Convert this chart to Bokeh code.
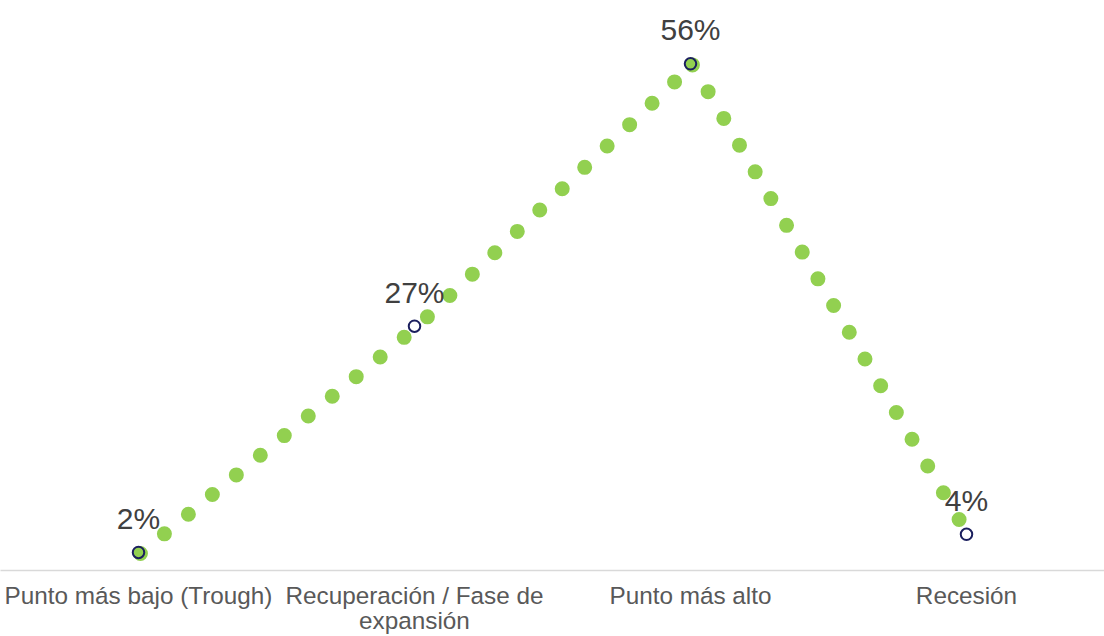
from bokeh.plotting import figure
from bokeh.models import FactorRange, Range1d, ColumnDataSource
from bokeh.core.properties import value
from bokeh.transform import dodge
from bokeh.embed import file_html
from bokeh.resources import INLINE

categories = ["Punto más bajo (Trough)", "Recuperación / Fase de\nexpansión", "Punto más alto", "Recesión"]
values = [2, 27, 56, 4]
labels = [f"{v}%" for v in values]

src = ColumnDataSource(dict(x=categories, y=values, label=labels))
# the dotted line restarts its dot pattern at the peak
src_up = ColumnDataSource(dict(x=categories[:3], y=values[:3]))
src_down = ColumnDataSource(dict(x=categories[2:], y=values[2:]))

p = figure(width=1104, height=636, output_backend="svg", toolbar_location=None,
           x_range=FactorRange(*categories, range_padding=0), y_range=Range1d(0, 63.0),
           min_border_left=0, min_border_right=0, min_border_top=0, min_border_bottom=66)
p.outline_line_color = None
p.background_fill_color = "white"
p.border_fill_color = "white"
p.grid.visible = False
p.yaxis.visible = False

xa = p.xaxis[0]
xa.axis_line_color = "#d9d9d9"
xa.axis_line_width = 1.5
xa.major_tick_line_color = None
xa.minor_tick_line_color = None
xa.major_tick_out = 0
xa.major_tick_in = 0
xa.major_label_standoff = 11
xa.major_label_text_font = "Liberation Sans"
xa.major_label_text_font_size = "24.3px"
xa.major_label_text_line_height = 0.93
xa.major_label_text_color = "#595959"

for s in (src_up, src_down):
    p.line(x=dodge("x", 0.007, range=p.x_range), y=dodge("y", -0.12, range=p.y_range),
           source=s, line_color="#92D050", line_width=15,
           line_dash="0 31", line_cap="round", line_join="round")
p.scatter("x", "y", source=src, marker="circle", size=11.5, fill_color=None,
          line_color="#1b1f5e", line_width=2)
p.text("x", "y", text="label", source=src, text_align="center", text_baseline="middle",
       y_offset=-34, text_font=value("Liberation Sans"), text_font_size="30px",
       text_color="#404040")

open("out.html", "w").write(file_html(p, INLINE))
